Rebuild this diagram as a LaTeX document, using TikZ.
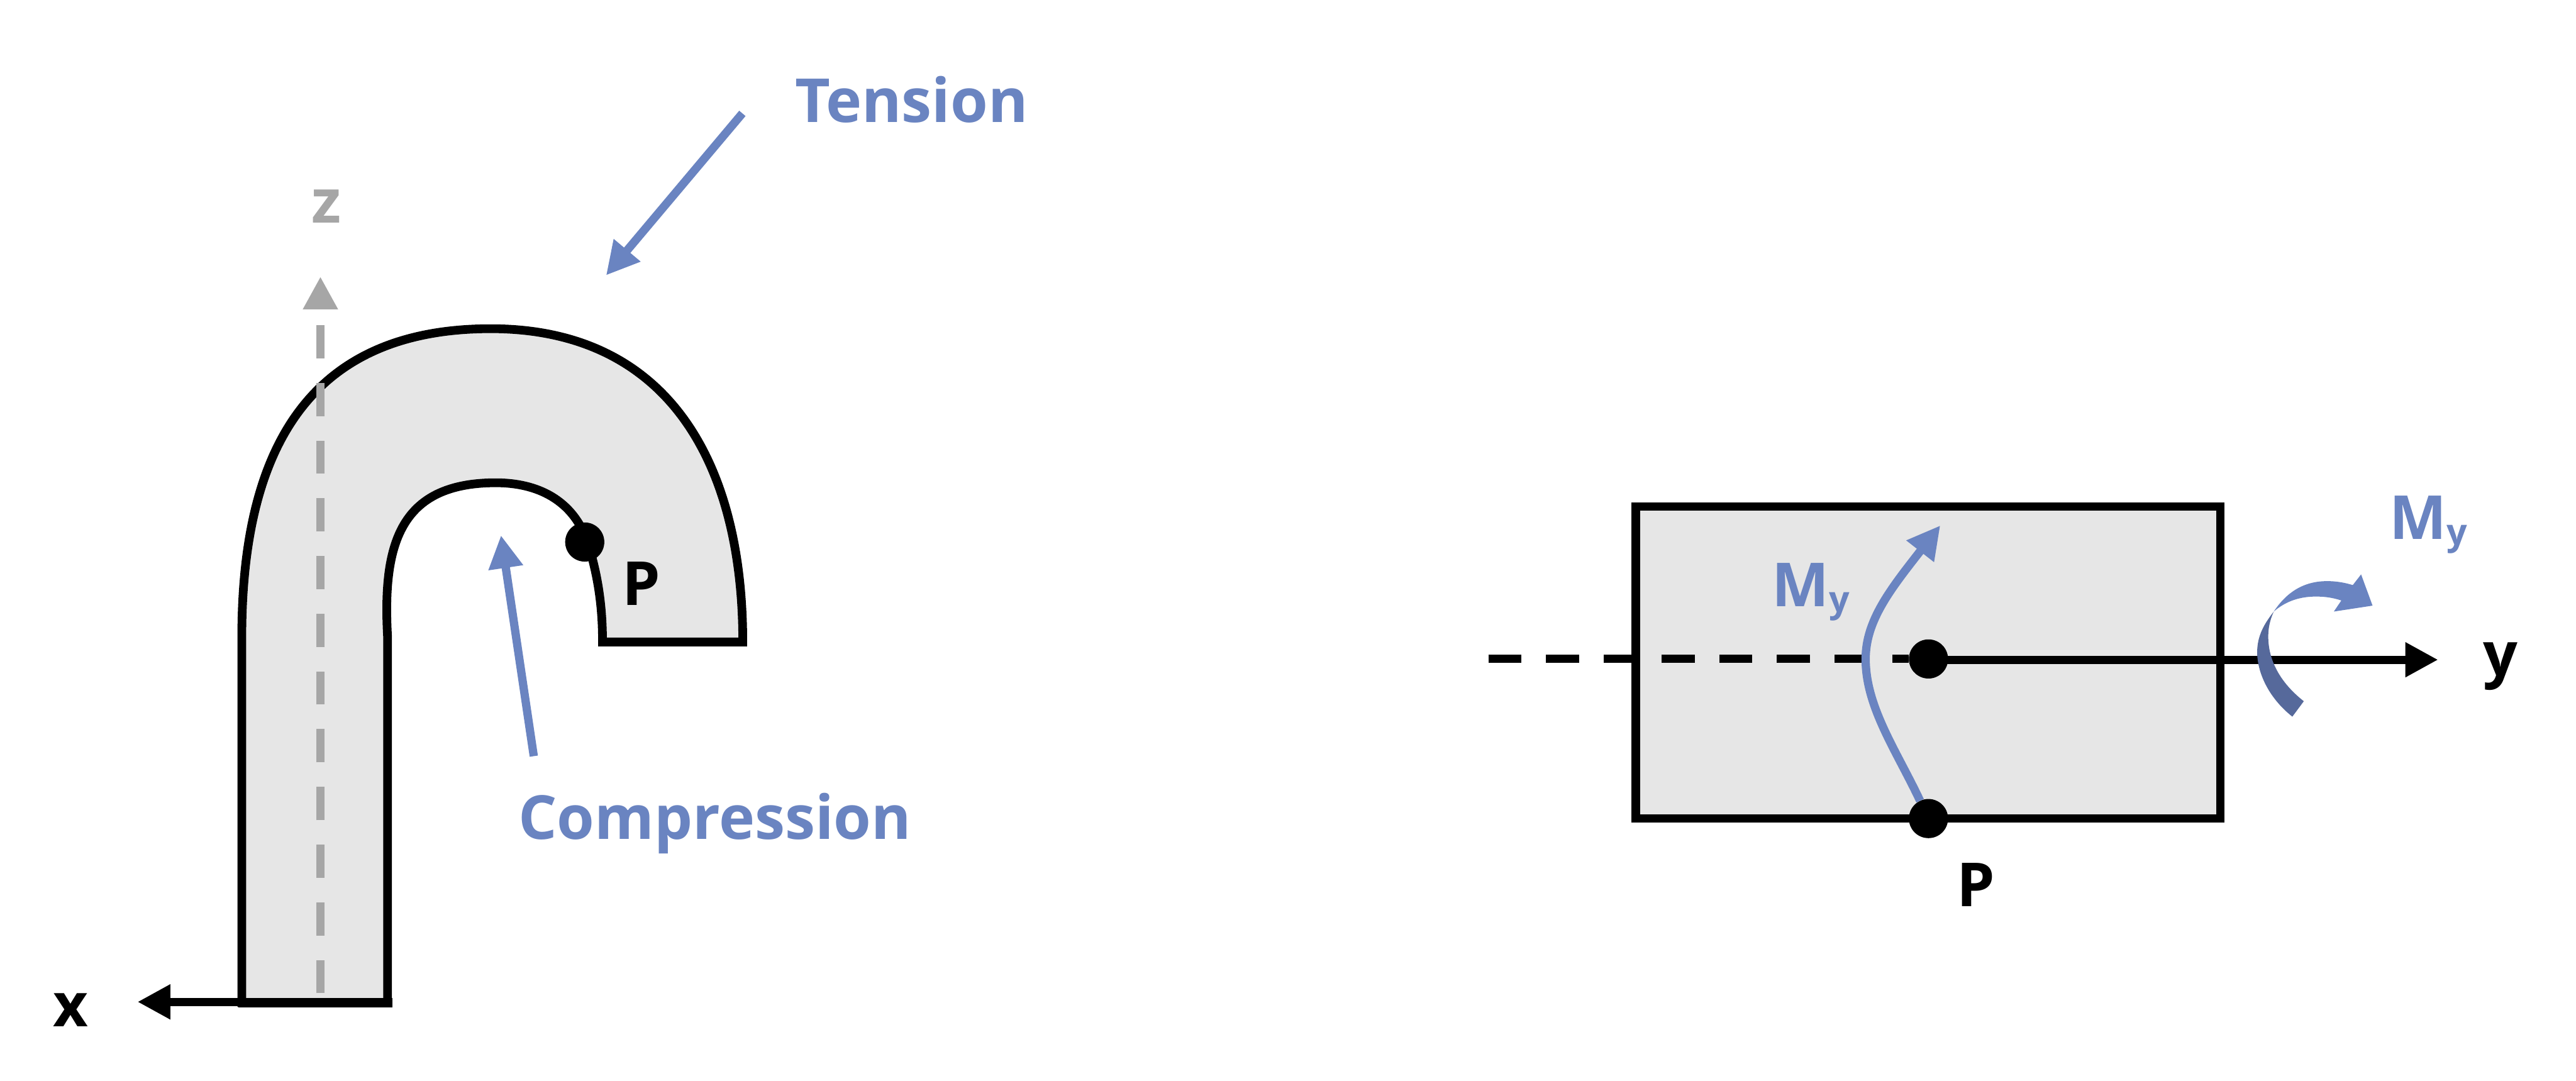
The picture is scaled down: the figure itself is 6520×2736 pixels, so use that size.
\documentclass[tikz,border=0pt]{standalone}
\usepackage{fontspec}
\setmainfont{Open Sans}
\usetikzlibrary{arrows.meta}
\definecolor{beamgray}{HTML}{E6E6E6}
\definecolor{axisgray}{HTML}{A6A6A6}
\definecolor{loadblue}{HTML}{6A84C1}
\definecolor{loaddark}{HTML}{56699B}
\newcommand{\figuretext}{\fontsize{111}{130}\selectfont\bfseries}
\newcommand{\momenty}{M\raisebox{-0.09em}{\fontsize{66}{70}\selectfont y}}
\tikzset{
  labeltext/.style={anchor=base west,inner sep=0pt,font=\figuretext},
  pointdot/.style={circle,fill=black,inner sep=0pt,minimum size=0.99in},
  bodyline/.style={draw=black,fill=beamgray,line width=0.22in,line join=miter},
  axisarrow/.style={-{Triangle[length=0.83in,width=0.83in]},line width=0.21in},
  loadarrow/.style={-{Triangle[length=0.83in,width=0.83in]},line width=0.21in,color=loadblue},
  axisdash/.style={line width=0.21in,dash pattern=on 0.84in off 0.62in}
}

\begin{document}
\begin{tikzpicture}[x=0.01in,y=-0.01in]
\useasboundingbox (0,0) rectangle (6520,2736);
\draw[bodyline] (612,1613) .. controls (612,1100) and (810,832) .. (1242,832) .. controls (1690,832) and (1880,1170) .. (1880,1625) -- (1525,1625) .. controls (1525,1540) and (1515,1460) .. (1487,1372) .. controls (1450,1265) and (1360,1222) .. (1255,1222) .. controls (1010,1222) and (968,1380) .. (981,1613) -- (981,2538) -- (612,2538) -- cycle;
\draw[line width=0.25in] (604,2538) -- (994,2538);
\coordinate (zstart) at (811,2514);
\coordinate (ztip) at (811,700);
\coordinate (xstart) at (612,2536);
\coordinate (xtip) at (348,2536);
\coordinate (tensionstart) at (1879,287);
\coordinate (tensiontip) at (1534,697);
\coordinate (compstart) at (1351,1914);
\coordinate (comptip) at (1268,1355);
\draw[axisarrow,axisdash,color=axisgray] (zstart) -- (ztip);
\draw[axisarrow] (xstart) -- (xtip);
\draw[loadarrow] (tensionstart) -- (tensiontip);
\draw[loadarrow] (compstart) -- (comptip);
\node[pointdot] (pleft) at (1480,1372) {};
\node[labeltext,color=axisgray] (zlabel) at (788,565) {z};
\node[labeltext] (xlabel) at (134,2598) {x};
\node[labeltext] (plabel) at (1574,1532) {P};
\node[labeltext,color=loadblue] (tensionlabel) at (2012,309) {Tension};
\node[labeltext,color=loadblue] (complabel) at (1312,2124) {Compression};
% section on the right
\node[draw=black,fill=beamgray,line width=0.21in,minimum width=14.79in,minimum height=7.89in,inner sep=0pt] (section) at (4880,1677) {};
\node[pointdot] (pcentre) at (4881,1668) {};
\coordinate (ystart) at (3767,1668);
\coordinate (ytip) at (6171,1670);
\draw[axisdash] (ystart) -- (pcentre);
\draw[axisarrow] (4881,1670) -- (ytip);
\coordinate (stressmid) at (4722,1668);
\coordinate (stresstip) at (4911,1330);
\node[pointdot] (pbottom) at (4881,2072) {};
\draw[loadarrow] (pbottom) .. controls (4800,1900) and (4722,1790) .. (stressmid) .. controls (4722,1570) and (4786,1490) .. (stresstip);
\node[labeltext] (pbottomlabel) at (4953,2295) {P};
\node[labeltext] (ylabel) at (6285,1711) {y};
\node[labeltext,color=loadblue] (momentleft) at (4484,1535) {\momenty};
\node[labeltext,color=loadblue] (momentright) at (6047,1365) {\momenty};
% twisted moment arrow
\fill[loaddark] (5802,1814) .. controls (5740,1765) and (5713,1700) .. (5713,1651) .. controls (5713,1610) and (5730,1580) .. (5755,1548) .. controls (5745,1570) and (5741,1590) .. (5741,1611) .. controls (5741,1680) and (5780,1735) .. (5831,1775) -- cycle;
\fill[loadblue] (5755,1548) .. controls (5790,1495) and (5835,1471) .. (5890,1471) .. controls (5915,1471) and (5935,1475) .. (5955,1481) -- (5976,1454) -- (6005,1533) -- (5907,1548) -- (5926,1520) .. controls (5905,1513) and (5885,1510) .. (5862,1510) .. controls (5820,1510) and (5785,1522) .. (5755,1548) -- cycle;
\end{tikzpicture}
\end{document}
